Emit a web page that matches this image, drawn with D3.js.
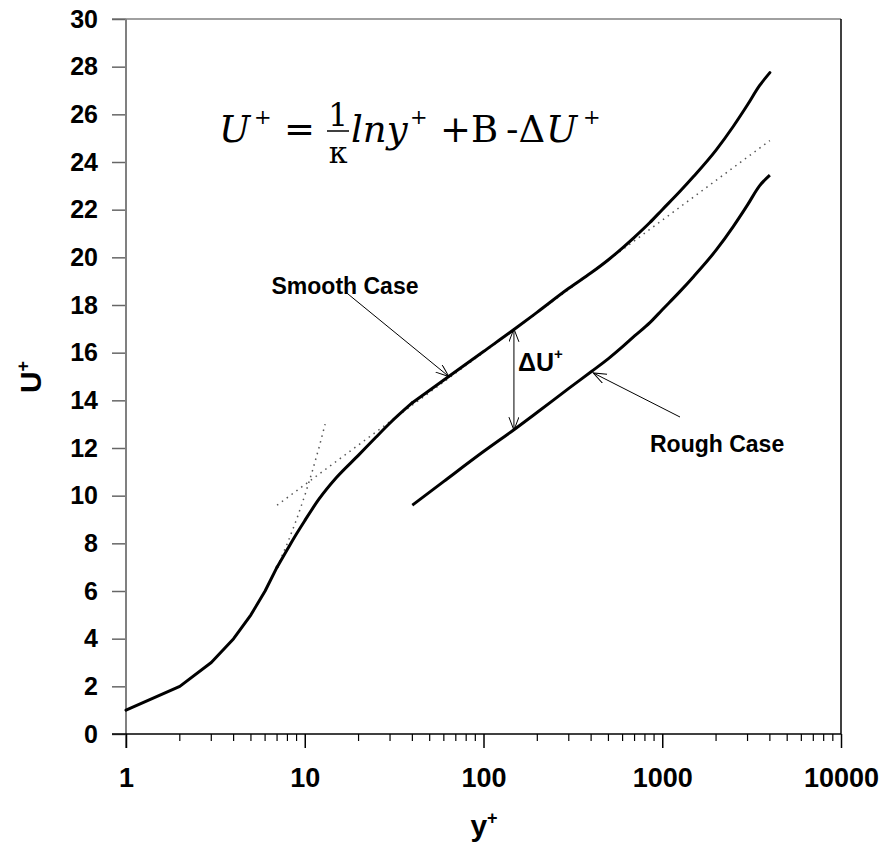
<!DOCTYPE html>
<html>
<head>
<meta charset="utf-8">
<script src="https://cdn.jsdelivr.net/npm/d3@7"></script>
<style>
  body { margin: 0; background: #fff; }
  svg text { font-family: "Liberation Sans", Arial, sans-serif; font-weight: bold; }
</style>
</head>
<body>
<script>
// smooth wall profile
const smoothYp = [1, 2, 3, 4, 5, 6, 7, 8, 9, 10, 12, 15, 20, 25, 30, 40, 60, 100, 150, 200, 300, 400, 500, 600, 700, 850, 1000, 1250, 1500, 2000, 2500, 3000, 3500, 4000];
const smoothU = [1, 2, 3, 4, 5, 6, 7, 7.75, 8.4, 8.95, 9.85, 10.75, 11.7, 12.45, 13.05, 13.9, 14.85, 16.05, 17.0, 17.7, 18.7, 19.35, 19.9, 20.4, 20.85, 21.45, 22.0, 22.75, 23.4, 24.5, 25.5, 26.4, 27.2, 27.75];
// rough wall profile
const roughYp = [40, 60, 100, 150, 200, 300, 400, 500, 600, 700, 850, 1000, 1250, 1500, 2000, 2500, 3000, 3500, 4000];
const roughU = [9.6, 10.6, 11.85, 12.8, 13.5, 14.5, 15.2, 15.75, 16.25, 16.7, 17.25, 17.8, 18.55, 19.2, 20.3, 21.3, 22.2, 23.0, 23.45];
// dotted guide lines (log law, viscous sublayer)
const logLawYp = [7, 4000];
const logLawU = [9.6, 24.9];
const viscYp = [7, 8, 9, 10, 11, 12, 13];
const viscU = [7, 8, 9, 10, 11, 12, 13];

const xTicks = [1, 10, 100, 1000, 10000];
const yTicks = d3.range(0, 31, 2);

const W = 881, H = 848;
const mLeft = 126, mRight = 841, mTop = 19, mBottom = 734;

const svg = d3.select("body").append("svg")
  .attr("width", W).attr("height", H);

const x = d3.scaleLog().domain([1, 10000]).range([mLeft, mRight]);
const y = d3.scaleLinear().domain([0, 30]).range([mBottom, mTop]);

// arrow head
svg.append("defs").append("marker")
  .attr("id", "arr")
  .attr("markerUnits", "userSpaceOnUse")
  .attr("markerWidth", 16).attr("markerHeight", 12)
  .attr("refX", 13).attr("refY", 5)
  .attr("orient", "auto-start-reverse")
  .append("path")
  .attr("d", "M0,0 L13,5 L0,10")
  .attr("fill", "none").attr("stroke", "#000").attr("stroke-width", 1);

// frame: top (grey) and right (black)
svg.append("line").attr("x1", 112).attr("x2", mRight).attr("y1", mTop).attr("y2", mTop)
  .attr("stroke", "#808080").attr("stroke-width", 1.5);
svg.append("line").attr("x1", mRight).attr("x2", mRight).attr("y1", mTop).attr("y2", mBottom)
  .attr("stroke", "#000").attr("stroke-width", 1.5);

// y axis
const yAxis = d3.axisLeft(y).tickValues(yTicks).tickSize(14).tickPadding(14).tickFormat(d3.format("d"));
const gy = svg.append("g").attr("transform", `translate(${mLeft},0)`).call(yAxis);
gy.select(".domain").remove();
gy.selectAll(".tick line").attr("stroke", "#666").attr("stroke-width", 1.5);
gy.selectAll(".tick text").attr("font-size", 25).attr("fill", "#000")
  .style("font-family", "Liberation Sans, Arial, sans-serif").style("font-weight", "bold");
svg.append("line").attr("x1", mLeft).attr("x2", mLeft).attr("y1", mTop).attr("y2", mBottom + 14)
  .attr("stroke", "#808080").attr("stroke-width", 2);

// x axis: minor ticks then major
const minor = [];
for (let e = 0; e < 4; e++) for (let m = 2; m <= 9; m++) minor.push(m * Math.pow(10, e));
svg.append("g").selectAll("line").data(minor).join("line")
  .attr("x1", d => x(d)).attr("x2", d => x(d))
  .attr("y1", mBottom).attr("y2", mBottom + 7)
  .attr("stroke", "#000").attr("stroke-width", 1.2);

const xAxis = d3.axisBottom(x).tickValues(xTicks).tickSize(14).tickPadding(20).tickFormat(d3.format("d"));
const gx = svg.append("g").attr("transform", `translate(0,${mBottom})`).call(xAxis);
gx.select(".domain").remove();
gx.selectAll(".tick line").attr("stroke", "#000").attr("stroke-width", 1.5);
gx.selectAll(".tick text").attr("font-size", 27).attr("fill", "#000")
  .style("font-family", "Liberation Sans, Arial, sans-serif").style("font-weight", "bold");
svg.append("line").attr("x1", 112).attr("x2", mRight).attr("y1", mBottom).attr("y2", mBottom)
  .attr("stroke", "#000").attr("stroke-width", 1.5);

// axis titles
const yt = svg.append("text").attr("transform", `translate(41,377) rotate(-90)`)
  .attr("text-anchor", "middle").attr("font-size", 30);
yt.append("tspan").text("U");
yt.append("tspan").attr("font-size", 18).attr("dy", -12).text("+");

const xt = svg.append("text").attr("x", 484).attr("y", 836)
  .attr("text-anchor", "middle").attr("font-size", 30);
xt.append("tspan").text("y");
xt.append("tspan").attr("font-size", 18).attr("dy", -12).text("+");

// lines
const line = d3.line().x(d => x(d[0])).y(d => y(d[1]));
const smoothLine = d3.line().x(d => x(d[0])).y(d => y(d[1])).curve(d3.curveMonotoneX);

svg.append("path").datum(d3.zip(logLawYp, logLawU))
  .attr("d", line).attr("fill", "none")
  .attr("stroke", "#555").attr("stroke-width", 1.5).attr("stroke-dasharray", "1.5,4.5");
svg.append("path").datum(d3.zip(viscYp, viscU))
  .attr("d", line).attr("fill", "none")
  .attr("stroke", "#555").attr("stroke-width", 1.5).attr("stroke-dasharray", "1.5,4.5");

// smooth case: straight segments up to y+=7, smoothed buffer to 40, smoothed log region beyond
const smoothPts = d3.zip(smoothYp, smoothU);
const i7 = smoothYp.indexOf(7);
const i40 = smoothYp.indexOf(40);
const pieces = [
  [smoothPts.slice(0, i7 + 1), line],
  [smoothPts.slice(i7, i40 + 1), smoothLine],
  [smoothPts.slice(i40), smoothLine]
];
pieces.forEach(([pts, gen]) => {
  svg.append("path").datum(pts)
    .attr("d", gen).attr("fill", "none")
    .attr("stroke", "#000").attr("stroke-width", 3)
    .attr("stroke-linejoin", "round").attr("stroke-linecap", "round");
});
svg.append("path").datum(d3.zip(roughYp, roughU))
  .attr("d", smoothLine).attr("fill", "none")
  .attr("stroke", "#000").attr("stroke-width", 3).attr("stroke-linejoin", "round");

// annotations
function arrow(p0, p1, both) {
  const l = svg.append("line")
    .attr("x1", x(p0[0])).attr("y1", y(p0[1]))
    .attr("x2", x(p1[0])).attr("y2", y(p1[1]))
    .attr("stroke", "#000").attr("stroke-width", 1)
    .attr("marker-end", "url(#arr)");
  if (both) l.attr("marker-start", "url(#arr)");
}
arrow([17.2, 18.5], [64, 15.0]);
arrow([1257, 13.3], [411, 15.15]);
arrow([148, 17.0], [148, 12.75], true);

svg.append("text").attr("x", 345).attr("y", 294).attr("text-anchor", "middle")
  .attr("font-size", 23).text("Smooth Case");
svg.append("text").attr("x", 650).attr("y", 452)
  .attr("font-size", 23).text("Rough Case");
const du = svg.append("text").attr("x", 518).attr("y", 371).attr("font-size", 25);
du.append("tspan").text("ΔU");
du.append("tspan").attr("font-size", 15).attr("dy", -12).text("+");

// equation
const eq = svg.append("g");
function eqText(t, px, py, size, italic, anchor) {
  eq.append("text").attr("x", px).attr("y", py).attr("font-size", size)
    .attr("text-anchor", anchor || "start")
    .style("font-family", "'DejaVu Serif', serif").style("font-weight", "normal")
    .style("font-style", italic ? "italic" : "normal").text(t);
}
eqText("U", 219, 142, 37, true);
eqText("+", 254, 124, 21, false);
eqText("=", 284, 142, 37, false);
eqText("1", 338, 126, 31, false, "middle");
eq.append("line").attr("x1", 327).attr("x2", 349).attr("y1", 131).attr("y2", 131)
  .attr("stroke", "#000").attr("stroke-width", 1.5);
eqText("κ", 338, 163, 30, false, "middle");
eqText("lny", 351, 142, 37, true);
eqText("+", 410, 124, 21, false);
eqText("+B", 440, 142, 37, false);
eqText("-Δ", 506, 142, 37, false);
eqText("U", 546, 142, 37, true);
eqText("+", 583, 124, 21, false);
</script>
</body>
</html>
